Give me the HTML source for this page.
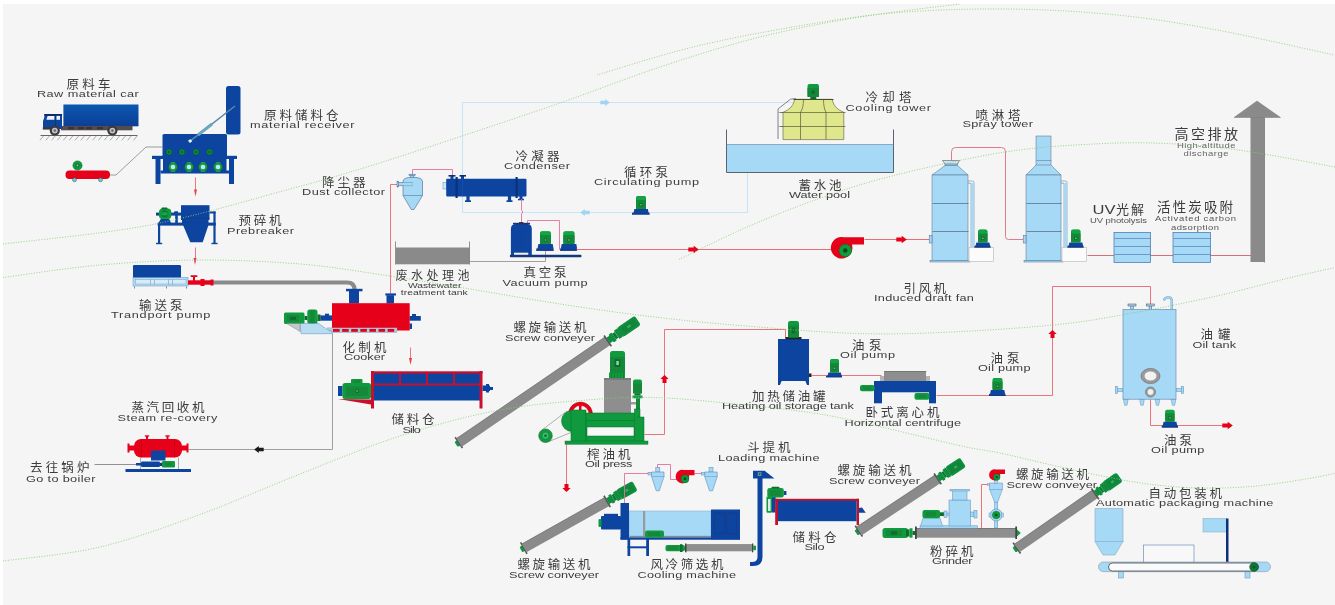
<!DOCTYPE html>
<html lang="zh"><head><meta charset="utf-8"><title>Rendering plant process flow</title>
<style>
html,body{margin:0;padding:0;background:#fff;}
body{width:1335px;height:605px;overflow:hidden;font-family:"Liberation Sans","Noto Sans CJK SC",sans-serif;}
svg{display:block;filter:blur(0.55px);}
svg text{font-family:"Liberation Sans","Noto Sans CJK SC",sans-serif;}
</style></head><body>
<svg width="1335" height="605" viewBox="0 0 1335 605">
<rect x="0" y="0" width="1335" height="605" fill="#ffffff"/>
<rect x="3" y="4" width="1340" height="610" fill="#f5f5f5"/>
<defs><linearGradient id="bg1" x1="0" y1="0" x2="0" y2="1"><stop offset="0" stop-color="#0b59b0"/><stop offset="1" stop-color="#0c3e96"/></linearGradient></defs>
<rect x="63.4" y="104.5" width="75.1" height="21.8" fill="url(#bg1)"/>
<rect x="61.0" y="126.0" width="71.5" height="4.3" fill="#544c4c"/>
<rect x="68.0" y="127.0" width="6.0" height="2.3" fill="#3a3434"/>
<rect x="78.0" y="127.0" width="6.0" height="2.3" fill="#3a3434"/>
<rect x="86.0" y="127.0" width="6.0" height="2.3" fill="#3a3434"/>
<rect x="97.0" y="127.0" width="6.0" height="2.3" fill="#3a3434"/>
<polygon points="44.5,115.0 62.0,115.0 62.0,129.0 43.0,129.0 43.0,121.0 44.2,118.0" fill="#0c44a0"/>
<polygon points="44.0,113.9 62.0,113.9 62.0,115.8 44.6,115.8" fill="#0a2a6a"/>
<polygon points="47.6,115.9 54.4,115.9 54.4,119.8 46.4,119.8" fill="#eef2f8"/>
<rect x="56.5" y="115.9" width="3.5" height="3.9" fill="#eef2f8"/>
<path d="M55.5 115.5 L55.5 127.5" fill="none" stroke="#0a2a6a" stroke-width="0.6"/>
<rect x="42.8" y="127.2" width="7.7" height="2.4" fill="#3a3a3a"/>
<circle cx="54.8" cy="130.6" r="5.1" fill="#3a3a3a"/>
<circle cx="54.8" cy="130.6" r="2.9" fill="#c4c4c4"/>
<circle cx="54.8" cy="130.6" r="1.3" fill="#6a6a6a"/>
<circle cx="112.4" cy="130.6" r="5.1" fill="#3a3a3a"/>
<circle cx="112.4" cy="130.6" r="2.9" fill="#c4c4c4"/>
<circle cx="112.4" cy="130.6" r="1.3" fill="#6a6a6a"/>
<path d="M40.5 135.5 L137.5 135.5" fill="none" stroke="#555" stroke-width="0.9"/>
<path d="M43.5 136.0 L39.9 140.3" fill="none" stroke="#777" stroke-width="0.6"/>
<path d="M49.4 136.0 L45.8 140.3" fill="none" stroke="#777" stroke-width="0.6"/>
<path d="M55.2 136.0 L51.6 140.3" fill="none" stroke="#777" stroke-width="0.6"/>
<path d="M61.0 136.0 L57.4 140.3" fill="none" stroke="#777" stroke-width="0.6"/>
<path d="M66.9 136.0 L63.3 140.3" fill="none" stroke="#777" stroke-width="0.6"/>
<path d="M72.8 136.0 L69.2 140.3" fill="none" stroke="#777" stroke-width="0.6"/>
<path d="M78.6 136.0 L75.0 140.3" fill="none" stroke="#777" stroke-width="0.6"/>
<path d="M84.4 136.0 L80.8 140.3" fill="none" stroke="#777" stroke-width="0.6"/>
<path d="M90.3 136.0 L86.7 140.3" fill="none" stroke="#777" stroke-width="0.6"/>
<path d="M96.2 136.0 L92.6 140.3" fill="none" stroke="#777" stroke-width="0.6"/>
<path d="M102.0 136.0 L98.4 140.3" fill="none" stroke="#777" stroke-width="0.6"/>
<path d="M107.8 136.0 L104.2 140.3" fill="none" stroke="#777" stroke-width="0.6"/>
<path d="M113.7 136.0 L110.1 140.3" fill="none" stroke="#777" stroke-width="0.6"/>
<path d="M119.5 136.0 L116.0 140.3" fill="none" stroke="#777" stroke-width="0.6"/>
<path d="M125.4 136.0 L121.8 140.3" fill="none" stroke="#777" stroke-width="0.6"/>
<path d="M131.2 136.0 L127.7 140.3" fill="none" stroke="#777" stroke-width="0.6"/>
<path d="M137.1 136.0 L133.5 140.3" fill="none" stroke="#777" stroke-width="0.6"/>
<path d="M110.0 175.0 L116.0 175.0 L146.0 147.0 L162.5 147.0" fill="none" stroke="#777" stroke-width="0.7"/>
<rect x="65.5" y="170.5" width="44.5" height="8.5" fill="#e60019" rx="4"/>
<circle cx="77.5" cy="165.5" r="4.6" fill="#0f9a3e" stroke="#0b6e2c" stroke-width="0.6"/>
<circle cx="77.5" cy="165.5" r="2.0" fill="#0b6e2c"/>
<circle cx="77.5" cy="165.5" r="0.9" fill="#8fd6a0"/>
<circle cx="74.5" cy="179.8" r="1.9" fill="#7fc8e8" stroke="#2a7a5a" stroke-width="0.7"/>
<circle cx="100.5" cy="179.8" r="1.9" fill="#7fc8e8" stroke="#2a7a5a" stroke-width="0.7"/>
<rect x="226.0" y="86.0" width="14.5" height="48.5" fill="#0c44a0" rx="2.5"/>
<rect x="162.5" y="134.0" width="64.5" height="23.0" fill="#0c44a0" rx="1.5"/>
<rect x="152.0" y="155.8" width="85.0" height="3.2" fill="#0c44a0"/>
<rect x="155.5" y="159.0" width="5.0" height="25.0" fill="#0c44a0"/>
<rect x="229.0" y="159.0" width="5.0" height="25.0" fill="#0c44a0"/>
<rect x="160.5" y="170.5" width="68.5" height="3.0" fill="#0c44a0"/>
<rect x="163.0" y="159.0" width="63.5" height="12.0" fill="#0c44a0"/>
<circle cx="169.0" cy="152.0" r="2.9" fill="#0f8a3a" stroke="#0a5a28" stroke-width="0.6"/>
<circle cx="169.0" cy="152.0" r="1.1" fill="#0a5a28"/>
<circle cx="182.0" cy="152.0" r="2.9" fill="#0f8a3a" stroke="#0a5a28" stroke-width="0.6"/>
<circle cx="182.0" cy="152.0" r="1.1" fill="#0a5a28"/>
<circle cx="196.0" cy="152.0" r="2.9" fill="#0f8a3a" stroke="#0a5a28" stroke-width="0.6"/>
<circle cx="196.0" cy="152.0" r="1.1" fill="#0a5a28"/>
<circle cx="209.5" cy="152.0" r="2.9" fill="#0f8a3a" stroke="#0a5a28" stroke-width="0.6"/>
<circle cx="209.5" cy="152.0" r="1.1" fill="#0a5a28"/>
<circle cx="173.0" cy="167.0" r="4.6" fill="#1a9a48" stroke="#0a5a28" stroke-width="0.6"/>
<rect x="170.8" y="162.0" width="4.4" height="10.0" fill="#1a9a48"/>
<circle cx="173.0" cy="167.0" r="2.3" fill="#bfe6f8"/>
<circle cx="189.0" cy="167.0" r="4.6" fill="#1a9a48" stroke="#0a5a28" stroke-width="0.6"/>
<rect x="186.8" y="162.0" width="4.4" height="10.0" fill="#1a9a48"/>
<circle cx="189.0" cy="167.0" r="2.3" fill="#bfe6f8"/>
<circle cx="203.0" cy="167.0" r="4.6" fill="#1a9a48" stroke="#0a5a28" stroke-width="0.6"/>
<rect x="200.8" y="162.0" width="4.4" height="10.0" fill="#1a9a48"/>
<circle cx="203.0" cy="167.0" r="2.3" fill="#bfe6f8"/>
<circle cx="218.0" cy="167.0" r="4.6" fill="#1a9a48" stroke="#0a5a28" stroke-width="0.6"/>
<rect x="215.8" y="162.0" width="4.4" height="10.0" fill="#1a9a48"/>
<circle cx="218.0" cy="167.0" r="2.3" fill="#bfe6f8"/>
<path d="M235.0 106.0 L191.0 140.3" fill="none" stroke="#5a8aa8" stroke-width="1.5"/>
<path d="M212.0 124.0 L198.0 135.0" fill="none" stroke="#6aa6bd" stroke-width="3"/>
<rect x="188.6" y="139.6" width="3.0" height="3.0" fill="#e8f2fa" transform="rotate(-38 190 141)"/>
<path d="M195.5 177.5 L195.5 192.5" fill="none" stroke="#e8404a" stroke-width="0.7"/>
<polygon points="194.0,189.5 197.0,189.5 195.5,196.5" fill="#e8404a"/>
<rect x="181.0" y="205.2" width="28.5" height="14.8" fill="#0c44a0"/>
<rect x="182.0" y="220.0" width="26.5" height="3.0" fill="#0c44a0"/>
<path d="M181.5 218.5 L209.5 218.5" fill="none" stroke="#1a3a7a" stroke-width="0.6"/>
<polygon points="183.0,225.0 208.5,225.0 202.7,242.2 190.3,242.2" fill="#0c44a0"/>
<rect x="157.6" y="222.6" width="58.2" height="3.0" fill="#0c44a0"/>
<rect x="158.0" y="225.0" width="2.2" height="18.5" fill="#0c44a0"/>
<rect x="156.0" y="242.8" width="6.2" height="1.4" fill="#0c44a0"/>
<rect x="213.4" y="211.5" width="2.2" height="32.0" fill="#0c44a0"/>
<rect x="211.4" y="242.8" width="6.2" height="1.4" fill="#0c44a0"/>
<rect x="175.2" y="211.5" width="2.6" height="11.5" fill="#0c44a0"/>
<rect x="209.5" y="211.5" width="6.1" height="2.0" fill="#0c44a0"/>
<rect x="174.0" y="211.5" width="4.0" height="1.8" fill="#0c44a0"/>
<rect x="156.0" y="212.6" width="25.0" height="3.0" fill="#0c44a0"/>
<polygon points="161.0,218.5 169.0,218.5 171.0,223.0 158.5,223.0" fill="#0c44a0"/>
<rect x="159.0" y="208.6" width="12.3" height="10.4" fill="#0f9a3e" rx="3.5"/>
<circle cx="164.6" cy="213.8" r="3.6" fill="#0b7a32"/>
<rect x="161.5" y="207.5" width="6.0" height="1.8" fill="#0b6e2c" rx="0.8"/>
<rect x="161.5" y="212.3" width="6.0" height="3.0" fill="#1fa050"/>
<path d="M195.5 247.5 L195.5 261.5" fill="none" stroke="#e8404a" stroke-width="0.7"/>
<polygon points="193.5,258.0 196.5,258.0 195.0,265.0" fill="#e8404a"/>
<rect x="133.0" y="265.0" width="48.0" height="13.0" fill="#0c44a0" rx="1.2"/>
<rect x="133.0" y="277.5" width="55.0" height="8.5" fill="#b8dcf2" stroke="#5f8fb8" stroke-width="0.5"/>
<rect x="135.5" y="279.5" width="50.5" height="4.5" fill="#d6ecf8" stroke="#5f8fb8" stroke-width="0.4"/>
<path d="M150.5 279.5 L150.5 284.5" fill="none" stroke="#5f8fb8" stroke-width="0.5"/>
<path d="M154.5 279.5 L154.5 284.5" fill="none" stroke="#5f8fb8" stroke-width="0.5"/>
<path d="M168.5 279.5 L168.5 284.5" fill="none" stroke="#5f8fb8" stroke-width="0.5"/>
<path d="M172.5 279.5 L172.5 284.5" fill="none" stroke="#5f8fb8" stroke-width="0.5"/>
<path d="M134.5 286.5 L134.5 288.5" fill="none" stroke="#5f8fb8" stroke-width="1"/>
<path d="M166.5 286.5 L166.5 288.5" fill="none" stroke="#5f8fb8" stroke-width="1"/>
<path d="M186.5 286.5 L186.5 288.5" fill="none" stroke="#5f8fb8" stroke-width="1"/>
<path d="M213 282.5 L347 282.5 Q354.5 282.5 354.5 289.5" fill="none" stroke="#8a8a8a" stroke-width="4.2"/>
<rect x="188.0" y="280.3" width="25.0" height="4.4" fill="#e60019"/>
<rect x="200.5" y="279.0" width="4.0" height="7.0" fill="#e60019"/>
<rect x="193.0" y="276.5" width="2.0" height="4.5" fill="#e60019"/>
<rect x="190.5" y="275.2" width="7.0" height="1.8" fill="#e60019" rx="0.8"/>
<rect x="210.5" y="279.5" width="3.0" height="6.0" fill="#e60019"/>
<path d="M390.5 184.5 L390.5 293.5" fill="none" stroke="#e8525f" stroke-width="0.8"/>
<path d="M390.5 184.5 L398.5 184.5" fill="none" stroke="#e8525f" stroke-width="0.8"/>
<path d="M332.5 333.5 L332.5 449.5 L188.5 449.5" fill="none" stroke="#8a8a8a" stroke-width="0.8"/>
<rect x="349.0" y="291.0" width="10.0" height="12.5" fill="#0c44a0"/>
<rect x="346.0" y="288.8" width="16.5" height="2.5" fill="#0c44a0"/>
<rect x="386.5" y="295.2" width="7.5" height="8.3" fill="#0c44a0"/>
<rect x="385.3" y="293.4" width="10.7" height="2.1" fill="#0c44a0"/>
<rect x="409.5" y="316.0" width="11.3" height="4.7" fill="#0c44a0"/>
<rect x="412.0" y="314.0" width="4.0" height="6.0" fill="#0c44a0"/>
<rect x="409.5" y="323.5" width="2.5" height="5.5" fill="#0c44a0"/>
<rect x="320.3" y="315.4" width="11.9" height="5.3" fill="#0c44a0"/>
<rect x="325.0" y="313.7" width="4.0" height="6.3" fill="#0c44a0"/>
<rect x="332.0" y="303.2" width="77.7" height="27.3" fill="#e60019"/>
<rect x="327.8" y="327.9" width="69.2" height="4.7" fill="#b4c8da" stroke="#7f9ab5" stroke-width="0.4"/>
<rect x="333.0" y="329.0" width="6.6" height="2.8" fill="#e60019"/>
<rect x="342.1" y="329.0" width="6.6" height="2.8" fill="#e60019"/>
<rect x="351.2" y="329.0" width="6.6" height="2.8" fill="#e60019"/>
<rect x="360.3" y="329.0" width="6.6" height="2.8" fill="#e60019"/>
<rect x="369.4" y="329.0" width="6.6" height="2.8" fill="#e60019"/>
<rect x="378.5" y="329.0" width="6.6" height="2.8" fill="#e60019"/>
<rect x="387.6" y="329.0" width="6.6" height="2.8" fill="#e60019"/>
<rect x="284.0" y="312.5" width="20.5" height="11.5" fill="#0f9a3e" rx="1.5"/>
<rect x="287.0" y="315.0" width="12.0" height="6.5" fill="#15883a"/>
<rect x="290.0" y="316.8" width="6.0" height="3.0" fill="#0b6e2c"/>
<rect x="304.5" y="316.0" width="3.0" height="4.0" fill="#0b6e2c"/>
<rect x="307.3" y="309.5" width="10.2" height="14.5" fill="#0f9a3e" rx="2.5"/>
<rect x="310.0" y="310.0" width="4.5" height="13.5" fill="#15883a"/>
<rect x="317.5" y="314.5" width="3.0" height="6.5" fill="#0b6e2c"/>
<polygon points="300.0,323.5 318.5,323.5 329.6,331.0 332.0,331.0 332.0,333.7 301.0,333.7" fill="#b8dcf2" stroke="#5f8fb8" stroke-width="0.5"/>
<polygon points="286.6,323.5 300.0,323.5 300.0,331.5" fill="#c4c8cc" stroke="#777" stroke-width="0.4"/>
<path d="M410.5 347.5 L410.5 361.5" fill="none" stroke="#e8404a" stroke-width="0.7"/>
<polygon points="409.0,358.0 412.0,358.0 410.5,365.0" fill="#e8404a"/>
<rect x="374.0" y="373.0" width="106.0" height="27.5" fill="#0c44a0"/>
<rect x="371.0" y="371.3" width="111.5" height="2.3" fill="#c8102e"/>
<rect x="371.0" y="371.0" width="3.0" height="37.5" fill="#c8102e"/>
<rect x="479.5" y="371.0" width="3.0" height="37.5" fill="#c8102e"/>
<rect x="374.0" y="383.5" width="106.0" height="2.0" fill="#c8102e"/>
<rect x="399.0" y="373.0" width="2.0" height="11.0" fill="#c8102e"/>
<rect x="426.0" y="373.0" width="2.0" height="11.0" fill="#c8102e"/>
<rect x="453.0" y="373.0" width="2.0" height="11.0" fill="#c8102e"/>
<rect x="482.5" y="385.5" width="7.5" height="5.5" fill="#0c44a0"/>
<rect x="486.0" y="384.0" width="3.0" height="8.5" fill="#0c44a0"/>
<rect x="490.0" y="387.0" width="3.0" height="3.0" fill="#0c44a0"/>
<polygon points="338.0,399.0 371.0,399.5 371.0,404.5" fill="#c8102e"/>
<rect x="338.0" y="386.0" width="4.5" height="10.0" fill="#0c44a0"/>
<rect x="342.5" y="383.0" width="28.5" height="16.0" fill="#0f9a3e" rx="2.5"/>
<rect x="351.0" y="379.0" width="11.5" height="5.0" fill="#0f9a3e" rx="1"/>
<rect x="353.5" y="380.2" width="6.5" height="2.8" fill="#15883a"/>
<rect x="346.0" y="386.5" width="22.0" height="9.5" fill="#15883a" rx="1"/>
<circle cx="357.0" cy="391.0" r="2.0" fill="#0b6e2c"/>
<circle cx="357.0" cy="391.0" r="0.8" fill="#8fd6a0"/>
<path d="M462.5 178.5 L462.5 102.5 L793.5 102.5" fill="none" stroke="#cbe4f5" stroke-width="1.1"/>
<path d="M462.5 196.5 L462.5 212.5 L747.5 212.5 L747.5 172.5" fill="none" stroke="#cbe4f5" stroke-width="1.1"/>
<polygon points="600.3,100.7 605.2,100.7 605.2,99.1 609.8,102.5 605.2,105.9 605.2,104.3 600.3,104.3" fill="#9fd4f3"/>
<polygon points="589.7,210.7 584.8,210.7 584.8,209.1 580.2,212.5 584.8,215.9 584.8,214.3 589.7,214.3" fill="#9fd4f3"/>
<path d="M412.5 176.5 L412.5 169.5 L452.5 169.5 L452.5 176.5" fill="none" stroke="#e7719c" stroke-width="0.9"/>
<rect x="410.3" y="174.8" width="3.6" height="3.2" fill="#a6d9f5" stroke="#3f6690" stroke-width="0.5"/>
<rect x="409.0" y="174.2" width="6.2" height="1.4" fill="#a6d9f5" stroke="#3f6690" stroke-width="0.5"/>
<path d="M403 181.5 Q403 177.3 412.7 177.3 Q422.5 177.3 422.5 181.5 L422.5 195.5 L414 209.5 L411.3 209.5 L403 195.5Z" fill="#a6d9f5" stroke="#3f6690" stroke-width="0.6"/>
<path d="M403.5 195.5 L422.5 195.5" fill="none" stroke="#3f6690" stroke-width="0.5"/>
<rect x="398.0" y="182.3" width="14.0" height="3.5" fill="#a6d9f5" stroke="#3f6690" stroke-width="0.5"/>
<rect x="397.0" y="181.2" width="1.6" height="5.8" fill="#a6d9f5" stroke="#3f6690" stroke-width="0.5"/>
<rect x="403.4" y="182.7" width="8.9" height="2.7" fill="#a6d9f5"/>
<rect x="443.0" y="182.5" width="3.5" height="6.5" fill="#cfe6f6" stroke="#5f8fb8" stroke-width="0.5"/>
<rect x="446.2" y="178.8" width="80.3" height="17.6" fill="#0c44a0" rx="1"/>
<rect x="455.5" y="177.0" width="2.2" height="21.0" fill="#0a3278"/>
<rect x="515.5" y="177.0" width="2.2" height="21.0" fill="#0a3278"/>
<rect x="450.5" y="175.6" width="3.0" height="3.4" fill="#0c44a0"/>
<rect x="448.5" y="175.0" width="7.0" height="1.6" fill="#0a3278"/>
<rect x="461.0" y="175.6" width="3.0" height="3.4" fill="#0c44a0"/>
<rect x="459.5" y="175.0" width="6.5" height="1.6" fill="#0a3278"/>
<rect x="466.4" y="195.5" width="3.2" height="5.5" fill="#0c44a0"/>
<rect x="465.0" y="200.3" width="6.0" height="1.7" fill="#0c44a0"/>
<rect x="507.9" y="195.5" width="3.2" height="5.5" fill="#0c44a0"/>
<rect x="506.5" y="200.3" width="6.0" height="1.7" fill="#0c44a0"/>
<rect x="519.5" y="195.5" width="3.0" height="4.0" fill="#0c44a0"/>
<rect x="518.0" y="198.8" width="6.0" height="1.5" fill="#0c44a0"/>
<path d="M462.5 178.5 L462.5 196.5" fill="none" stroke="#1d56b4" stroke-width="0.6"/>
<path d="M521.5 199 L521.5 210 L522.8 212 L521.5 214 L521.5 223" fill="none" stroke="#e7719c" stroke-width="0.9"/>
<path d="M469.5 261.5 L545.5 261.5 L545.5 250.5" fill="none" stroke="#8a8a8a" stroke-width="0.8"/>
<rect x="396.0" y="247.5" width="73.5" height="16.8" fill="#8a8a8a"/>
<path d="M395.5 241.5 L395.5 264.5" fill="none" stroke="#777" stroke-width="0.8"/>
<path d="M469.5 241.5 L469.5 264.5" fill="none" stroke="#777" stroke-width="0.8"/>
<path d="M527.5 223.5 L527.5 220.5 L559.5 220.5 L559.5 249.5 L562 249.5" fill="none" stroke="#e7719c" stroke-width="0.9"/>
<path d="M576.5 249.5 L833.5 249.5" fill="none" stroke="#e8525f" stroke-width="0.85"/>
<path d="M510.9 229 Q510.9 224 516 224 L526.7 224 Q531.8 224 531.8 229 L531.8 255.3 L510.9 255.3Z" fill="#0c44a0"/>
<rect x="513.0" y="222.8" width="17.0" height="1.6" fill="#16357a"/>
<rect x="519.0" y="222.2" width="4.4" height="1.0" fill="#222"/>
<rect x="514.0" y="252.7" width="14.3" height="2.5" fill="#f0f0f0"/>
<circle cx="521.3" cy="240.0" r="1.6" fill="none" stroke="#1a3a8a" stroke-width="0.5"/>
<polygon points="538.4,244.1 552.7,244.1 553.5,248.2 553.6,248.6 553.6,250.7 536.3,250.7 536.3,248.6 537.6,248.2" fill="#0c44a0"/>
<rect x="536.3" y="249.7" width="17.3" height="1.0" fill="#16357a"/>
<rect x="540.0" y="231.3" width="10.9" height="12.8" fill="#0f9a3e" rx="2"/>
<rect x="540.0" y="235.1" width="10.9" height="9.0" fill="#15883a"/>
<rect x="540.3" y="231.6" width="10.3" height="3.5" fill="#12a544" rx="1.5"/>
<rect x="543.9" y="238.4" width="3.2" height="3.2" fill="#0b6e2c"/>
<rect x="544.7" y="239.5" width="1.6" height="1.0" fill="#8fd6a0"/>
<polygon points="561.7,244.1 576.3,244.1 577.1,248.2 576.8,248.6 576.8,250.7 560.2,250.7 560.2,248.6 560.9,248.2" fill="#0c44a0"/>
<rect x="560.2" y="249.7" width="16.6" height="1.0" fill="#16357a"/>
<rect x="563.3" y="231.3" width="11.2" height="12.8" fill="#0f9a3e" rx="2"/>
<rect x="563.3" y="235.1" width="11.2" height="9.0" fill="#15883a"/>
<rect x="563.6" y="231.6" width="10.6" height="3.5" fill="#12a544" rx="1.5"/>
<rect x="567.3" y="238.4" width="3.2" height="3.2" fill="#0b6e2c"/>
<rect x="568.1" y="239.5" width="1.6" height="1.0" fill="#8fd6a0"/>
<rect x="509.8" y="254.8" width="71.7" height="2.4" fill="#16357a" rx="1"/>
<polygon points="688.3,247.6 693.7,247.6 693.7,245.7 698.8,249.5 693.7,253.3 693.7,251.4 688.3,251.4" fill="#e60019"/>
<polygon points="634.4,209.0 647.8,209.0 648.6,212.4 649.5,212.8 649.5,214.5 632.0,214.5 632.0,212.8 633.6,212.4" fill="#0c44a0"/>
<rect x="632.0" y="213.5" width="17.5" height="1.0" fill="#16357a"/>
<rect x="636.0" y="196.0" width="10.0" height="13.0" fill="#0f9a3e" rx="2"/>
<rect x="636.0" y="199.9" width="10.0" height="9.1" fill="#15883a"/>
<rect x="636.3" y="196.3" width="9.4" height="3.6" fill="#12a544" rx="1.5"/>
<rect x="639.4" y="203.2" width="3.2" height="3.2" fill="#0b6e2c"/>
<rect x="640.2" y="204.3" width="1.6" height="1.0" fill="#8fd6a0"/>
<rect x="726.3" y="144.0" width="167.1" height="28.0" fill="#a6d9f5"/>
<path d="M726.5 129.5 L726.5 172.5 L893.5 172.5 L893.5 129.5" fill="none" stroke="#5a6470" stroke-width="1.0"/>
<path d="M726.5 144.5 L893.5 144.5" fill="none" stroke="#6f8aa0" stroke-width="0.6"/>
<path d="M796.0 98.6 L790.5 99.2 L778.0 109.0 L778.0 139.0" fill="none" stroke="#666" stroke-width="0.8"/>
<path d="M778.5 112.5 L783.5 112.5" fill="none" stroke="#666" stroke-width="0.6"/>
<path d="M778.5 126.5 L783.5 126.5" fill="none" stroke="#666" stroke-width="0.6"/>
<path d="M794.3 99.3 L832.5 99.3 L832.5 101 Q835 109 843.8 112.3 L843.8 139.6 L783 139.6 L783 112.3 Q792 109 794.3 101Z" fill="#dfe78c" stroke="#5a5a3a" stroke-width="0.6"/>
<path d="M780.5 112.5 L845.5 112.5" fill="none" stroke="#5a5a3a" stroke-width="0.7"/>
<path d="M780.5 126.5 L845.5 126.5" fill="none" stroke="#5a5a3a" stroke-width="0.7"/>
<path d="M803.5 99.5 Q803.5 108 800.5 112.3 L800.5 139.6" fill="none" stroke="#5a5a3a" stroke-width="0.7"/>
<path d="M823.5 99.5 Q823.5 108 826 112.3 L826 139.6" fill="none" stroke="#5a5a3a" stroke-width="0.7"/>
<path d="M793.5 99.5 L833.5 99.5" fill="none" stroke="#4a4a30" stroke-width="1.0"/>
<rect x="810.3" y="96.5" width="6.0" height="2.5" fill="#0b6e2c"/>
<rect x="807.5" y="84.0" width="11.5" height="13.0" fill="#0f9a3e" rx="2"/>
<rect x="807.5" y="88.0" width="11.5" height="9.0" fill="#15883a"/>
<rect x="811.6" y="90.5" width="3.2" height="3.5" fill="#0b6e2c"/>
<path d="M843.8 237.2 L864.0 237.2 L864.0 244.4 L851.9 244.4 A10.8 10.8 0 1 1 843.8 237.2Z" fill="#e60019"/>
<circle cx="845.3" cy="250.5" r="6.3" fill="#0f9a3e" stroke="#0b6e2c" stroke-width="0.6"/>
<circle cx="845.3" cy="250.5" r="2.2" fill="#0a4a1e"/>
<path d="M864.5 239.5 L929.5 239.5" fill="none" stroke="#e8525f" stroke-width="0.85"/>
<polygon points="896.3,237.6 901.7,237.6 901.7,235.7 906.8,239.5 901.7,243.3 901.7,241.4 896.3,241.4" fill="#e60019"/>
<path d="M951.5 160.5 L951.5 151.5 Q951.5 147.5 955.5 147.5 L1001.5 147.5 Q1005.5 147.5 1005.5 151.5 L1005.5 236.5 Q1005.5 239.5 1008.5 239.5 L1023 239.5" fill="none" stroke="#e06c80" stroke-width="0.9"/>
<path d="M968.0 181 L972.5 181 Q974.0 181 974.0 183 L974.0 247" fill="none" stroke="#4f6d8c" stroke-width="0.5"/>
<path d="M968.0 183.2 L971.0 183.2 L971.0 247" fill="none" stroke="#4f6d8c" stroke-width="0.5"/>
<rect x="971.1" y="183.0" width="2.8" height="64.0" fill="#a6d9f5"/>
<rect x="945.0" y="163.8" width="12.5" height="2.2" fill="#a6d9f5" stroke="#4f6d8c" stroke-width="0.5"/>
<polygon points="942.5,160.5 959.5,160.5 957.5,164.0 945.0,164.0" fill="#cfe6f6" stroke="#556" stroke-width="0.6"/>
<polygon points="932.0,175.0 945.0,165.5 957.5,165.5 968.0,175.0" fill="#a6d9f5" stroke="#4f6d8c" stroke-width="0.5"/>
<rect x="932.0" y="175.0" width="36.0" height="85.5" fill="#a6d9f5" stroke="#4f6d8c" stroke-width="0.5"/>
<path d="M932.5 203.5 L968.5 203.5" fill="none" stroke="#3c536e" stroke-width="0.6"/>
<path d="M932.5 231.5 L968.5 231.5" fill="none" stroke="#3c536e" stroke-width="0.6"/>
<rect x="930.0" y="260.3" width="40.0" height="1.7" fill="#a6d9f5" stroke="#4f6d8c" stroke-width="0.5"/>
<rect x="929.2" y="235.5" width="2.8" height="7.5" fill="#a6d9f5" stroke="#4f6d8c" stroke-width="0.5"/>
<rect x="969.0" y="247.5" width="24.5" height="14.0" fill="#fbfbfb" stroke="#b5b5b5" stroke-width="0.6"/>
<polygon points="976.4,242.5 989.3,242.5 990.1,245.6 990.5,246.0 990.5,247.5 974.5,247.5 974.5,246.0 975.6,245.6" fill="#0c44a0"/>
<rect x="974.5" y="246.5" width="16.0" height="1.0" fill="#16357a"/>
<rect x="978.0" y="229.5" width="9.5" height="13.0" fill="#0f9a3e" rx="2"/>
<rect x="978.0" y="233.4" width="9.5" height="9.1" fill="#15883a"/>
<rect x="978.3" y="229.8" width="8.9" height="3.6" fill="#12a544" rx="1.5"/>
<rect x="981.1" y="236.7" width="3.2" height="3.2" fill="#0b6e2c"/>
<rect x="982.0" y="237.8" width="1.6" height="1.0" fill="#8fd6a0"/>
<path d="M1061.0 181 L1065.5 181 Q1067.0 181 1067.0 183 L1067.0 247" fill="none" stroke="#4f6d8c" stroke-width="0.5"/>
<path d="M1061.0 183.2 L1064.0 183.2 L1064.0 247" fill="none" stroke="#4f6d8c" stroke-width="0.5"/>
<rect x="1064.1" y="183.0" width="2.8" height="64.0" fill="#a6d9f5"/>
<rect x="1036.0" y="136.0" width="15.0" height="29.5" fill="#a6d9f5" stroke="#4f6d8c" stroke-width="0.5"/>
<path d="M1036.5 160.5 L1051.5 160.5" fill="none" stroke="#4f6d8c" stroke-width="0.5"/>
<polygon points="1026.0,175.0 1036.0,165.0 1051.0,165.0 1061.0,175.0" fill="#a6d9f5" stroke="#4f6d8c" stroke-width="0.5"/>
<rect x="1026.0" y="175.0" width="35.0" height="85.5" fill="#a6d9f5" stroke="#4f6d8c" stroke-width="0.5"/>
<path d="M1026.5 203.5 L1061.5 203.5" fill="none" stroke="#3c536e" stroke-width="0.6"/>
<path d="M1026.5 231.5 L1061.5 231.5" fill="none" stroke="#3c536e" stroke-width="0.6"/>
<rect x="1024.0" y="260.3" width="39.0" height="1.7" fill="#a6d9f5" stroke="#4f6d8c" stroke-width="0.5"/>
<rect x="1023.2" y="235.5" width="2.8" height="7.5" fill="#a6d9f5" stroke="#4f6d8c" stroke-width="0.5"/>
<rect x="1062.0" y="247.5" width="24.5" height="14.0" fill="#fbfbfb" stroke="#b5b5b5" stroke-width="0.6"/>
<polygon points="1069.4,242.5 1082.3,242.5 1083.1,245.6 1083.5,246.0 1083.5,247.5 1067.5,247.5 1067.5,246.0 1068.6,245.6" fill="#0c44a0"/>
<rect x="1067.5" y="246.5" width="16.0" height="1.0" fill="#16357a"/>
<rect x="1071.0" y="229.5" width="9.5" height="13.0" fill="#0f9a3e" rx="2"/>
<rect x="1071.0" y="233.4" width="9.5" height="9.1" fill="#15883a"/>
<rect x="1071.3" y="229.8" width="8.9" height="3.6" fill="#12a544" rx="1.5"/>
<rect x="1074.2" y="236.7" width="3.2" height="3.2" fill="#0b6e2c"/>
<rect x="1075.0" y="237.8" width="1.6" height="1.0" fill="#8fd6a0"/>
<path d="M1087.5 255.5 L1252.5 255.5" fill="none" stroke="#d0606a" stroke-width="0.9"/>
<rect x="1114.0" y="232.5" width="36.5" height="30.0" fill="#a6d9f5" stroke="#3f6fae" stroke-width="0.7"/>
<path d="M1114.5 238.5 L1150.5 238.5" fill="none" stroke="#3f6fae" stroke-width="0.6"/>
<path d="M1114.5 246.5 L1150.5 246.5" fill="none" stroke="#3f6fae" stroke-width="0.6"/>
<path d="M1114.5 254.5 L1150.5 254.5" fill="none" stroke="#3f6fae" stroke-width="0.6"/>
<rect x="1173.0" y="232.5" width="37.5" height="30.0" fill="#a6d9f5" stroke="#3f6fae" stroke-width="0.7"/>
<path d="M1173.5 238.5 L1210.5 238.5" fill="none" stroke="#3f6fae" stroke-width="0.6"/>
<path d="M1173.5 246.5 L1210.5 246.5" fill="none" stroke="#3f6fae" stroke-width="0.6"/>
<path d="M1173.5 254.5 L1210.5 254.5" fill="none" stroke="#3f6fae" stroke-width="0.6"/>
<rect x="1250.5" y="116.0" width="14.0" height="146.0" fill="#8a8a8a"/>
<path d="M1264.5 117.5 L1264.5 262.5" fill="none" stroke="#6e6e6e" stroke-width="0.7"/>
<polygon points="1257.0,101.0 1280.5,117.5 1234.0,117.5" fill="#8a8a8a" stroke="#7a7a7a" stroke-width="0.5"/>
<polygon points="263.7,447.7 258.8,447.7 258.8,446.1 254.2,449.5 258.8,452.9 258.8,451.3 263.7,451.3" fill="#1a1a1a"/>
<path d="M94.5 464.5 L142.5 464.5" fill="none" stroke="#666" stroke-width="0.7"/>
<rect x="128.0" y="445.5" width="6.5" height="5.0" fill="#e60019"/>
<rect x="127.5" y="443.5" width="2.0" height="9.0" fill="#e60019"/>
<rect x="181.5" y="445.5" width="6.5" height="5.0" fill="#e60019"/>
<rect x="186.5" y="443.5" width="2.0" height="9.0" fill="#e60019"/>
<rect x="146.0" y="436.0" width="2.0" height="3.5" fill="#e60019"/>
<rect x="144.8" y="435.3" width="4.4" height="1.3" fill="#e60019"/>
<rect x="166.5" y="436.0" width="2.0" height="3.5" fill="#e60019"/>
<rect x="165.3" y="435.3" width="4.4" height="1.3" fill="#e60019"/>
<rect x="134.0" y="439.0" width="48.0" height="18.5" fill="#e60019" rx="7"/>
<path d="M141.5 439.5 L141.5 457.5" fill="none" stroke="#b00015" stroke-width="0.5"/>
<path d="M174.5 439.5 L174.5 457.5" fill="none" stroke="#b00015" stroke-width="0.5"/>
<rect x="151.0" y="450.5" width="14.5" height="10.0" fill="#0c44a0"/>
<path d="M140.5 457.5 L140.5 469.5" fill="none" stroke="#777" stroke-width="0.6"/>
<path d="M178.5 457.5 L178.5 469.5" fill="none" stroke="#777" stroke-width="0.6"/>
<rect x="141.0" y="461.5" width="19.0" height="5.5" fill="#0c44a0" rx="1.2"/>
<rect x="136.0" y="463.0" width="5.0" height="2.5" fill="#0c44a0"/>
<rect x="160.0" y="462.8" width="2.5" height="3.2" fill="#16357a"/>
<rect x="162.0" y="461.0" width="13.0" height="6.5" fill="#0f9a3e" rx="1.2"/>
<rect x="165.0" y="462.5" width="7.0" height="3.5" fill="#15883a"/>
<rect x="125.5" y="469.0" width="65.5" height="3.0" fill="#0c44a0"/>
<g transform="translate(459.0 442.5) rotate(-34.35)">
<rect x="-3.5" y="-3.0" width="4.0" height="6.0" fill="#0f9a3e" rx="1"/>
<rect x="-1.0" y="-6.5" width="1.6" height="13.0" fill="#555"/>
<rect x="0.0" y="-5.0" width="179.9" height="10.0" fill="#8a8a8a"/>
<path d="M0.5 -4.5 L179.5 -4.5" fill="none" stroke="#777" stroke-width="0.5"/>
<rect x="179.3" y="-6.5" width="1.6" height="13.0" fill="#555"/>
<rect x="180.7" y="-3.3" width="4.3" height="6.6" fill="#0e8f3e"/>
<rect x="184.3" y="-4.7" width="3.7" height="9.4" fill="#0e8f3e" rx="0.8"/>
<rect x="187.9" y="-3.4" width="2.9" height="6.8" fill="#0b7a32"/>
<rect x="190.9" y="-5.0" width="4.4" height="10.0" fill="#0e8f3e" rx="0.8"/>
<rect x="195.3" y="-5.6" width="21.2" height="11.2" fill="#0e8f3e" rx="2.6"/>
<rect x="198.2" y="-3.4" width="15.4" height="6.8" fill="#12853a" rx="1"/>
<rect x="204.0" y="-1.2" width="3.7" height="2.4" fill="#2fae5c"/>
<path d="M195.5 -5.5 L195.5 5.5" fill="none" stroke="#0b6e2c" stroke-width="0.6"/>
</g>
<g transform="translate(524.0 548.0) rotate(-29.26)">
<rect x="-3.5" y="-3.0" width="4.0" height="6.0" fill="#0f9a3e" rx="1"/>
<rect x="-1.0" y="-6.5" width="1.6" height="13.0" fill="#555"/>
<rect x="0.0" y="-5.0" width="95.1" height="10.0" fill="#8a8a8a"/>
<path d="M0.5 -4.5 L95.5 -4.5" fill="none" stroke="#777" stroke-width="0.5"/>
<rect x="94.5" y="-6.5" width="1.6" height="13.0" fill="#555"/>
<rect x="95.9" y="-3.3" width="3.7" height="6.6" fill="#0e8f3e"/>
<rect x="99.0" y="-4.7" width="3.2" height="9.4" fill="#0e8f3e" rx="0.8"/>
<rect x="102.2" y="-3.4" width="2.6" height="6.8" fill="#0b7a32"/>
<rect x="104.7" y="-5.0" width="3.8" height="10.0" fill="#0e8f3e" rx="0.8"/>
<rect x="108.6" y="-5.6" width="18.6" height="11.2" fill="#0e8f3e" rx="2.6"/>
<rect x="111.1" y="-3.4" width="13.4" height="6.8" fill="#12853a" rx="1"/>
<rect x="116.3" y="-1.2" width="3.2" height="2.4" fill="#2fae5c"/>
<path d="M108.5 -5.5 L108.5 5.5" fill="none" stroke="#0b6e2c" stroke-width="0.6"/>
</g>
<g transform="translate(859.0 531.0) rotate(-33.52)">
<rect x="-3.5" y="-3.0" width="4.0" height="6.0" fill="#0f9a3e" rx="1"/>
<rect x="-1.0" y="-6.5" width="1.6" height="13.0" fill="#555"/>
<rect x="0.0" y="-5.0" width="94.2" height="10.0" fill="#8a8a8a"/>
<path d="M0.5 -4.5 L94.5 -4.5" fill="none" stroke="#777" stroke-width="0.5"/>
<rect x="93.6" y="-6.5" width="1.6" height="13.0" fill="#555"/>
<rect x="95.0" y="-3.3" width="3.5" height="6.6" fill="#0e8f3e"/>
<rect x="97.8" y="-4.7" width="3.1" height="9.4" fill="#0e8f3e" rx="0.8"/>
<rect x="100.9" y="-3.4" width="2.4" height="6.8" fill="#0b7a32"/>
<rect x="103.3" y="-5.0" width="3.7" height="10.0" fill="#0e8f3e" rx="0.8"/>
<rect x="107.0" y="-5.6" width="17.7" height="11.2" fill="#0e8f3e" rx="2.6"/>
<rect x="109.4" y="-3.4" width="12.8" height="6.8" fill="#12853a" rx="1"/>
<rect x="114.3" y="-1.2" width="3.1" height="2.4" fill="#2fae5c"/>
<path d="M106.5 -5.5 L106.5 5.5" fill="none" stroke="#0b6e2c" stroke-width="0.6"/>
</g>
<g transform="translate(1017.0 548.0) rotate(-34.70)">
<rect x="-3.5" y="-3.0" width="4.0" height="6.0" fill="#0f9a3e" rx="1"/>
<rect x="-1.0" y="-6.5" width="1.6" height="13.0" fill="#555"/>
<rect x="0.0" y="-5.0" width="94.9" height="10.0" fill="#8a8a8a"/>
<path d="M0.5 -4.5 L94.5 -4.5" fill="none" stroke="#777" stroke-width="0.5"/>
<rect x="94.3" y="-6.5" width="1.6" height="13.0" fill="#555"/>
<rect x="95.7" y="-3.3" width="3.4" height="6.6" fill="#0e8f3e"/>
<rect x="98.5" y="-4.7" width="3.0" height="9.4" fill="#0e8f3e" rx="0.8"/>
<rect x="101.5" y="-3.4" width="2.4" height="6.8" fill="#0b7a32"/>
<rect x="103.9" y="-5.0" width="3.6" height="10.0" fill="#0e8f3e" rx="0.8"/>
<rect x="107.4" y="-5.6" width="17.4" height="11.2" fill="#0e8f3e" rx="2.6"/>
<rect x="109.8" y="-3.4" width="12.6" height="6.8" fill="#12853a" rx="1"/>
<rect x="114.6" y="-1.2" width="3.0" height="2.4" fill="#2fae5c"/>
<path d="M107.5 -5.5 L107.5 5.5" fill="none" stroke="#0b6e2c" stroke-width="0.6"/>
</g>
<path d="M566.5 444.5 L566.5 486.5" fill="none" stroke="#e8525f" stroke-width="0.8"/>
<polygon points="564.5,484.0 564.5,487.9 562.3,487.9 566.5,492.0 570.7,487.9 568.5,487.9 568.5,484.0" fill="#e60019"/>
<path d="M644.5 434.5 L664.5 434.5 L664.5 329.5 L785.5 329.5 L785.5 338.5" fill="none" stroke="#e8525f" stroke-width="0.8"/>
<polygon points="662.5,383.0 662.5,379.1 660.3,379.1 664.5,375.0 668.7,379.1 666.5,379.1 666.5,383.0" fill="#e60019"/>
<path d="M542.0 430.0 L567.0 411.0" fill="none" stroke="#666" stroke-width="0.5"/>
<path d="M549.0 441.5 L572.0 432.0" fill="none" stroke="#666" stroke-width="0.5"/>
<circle cx="545.5" cy="435.7" r="6.8" fill="#0f9a3e" stroke="#0b6e2c" stroke-width="0.6"/>
<circle cx="545.5" cy="435.7" r="3.6" fill="#3fb86a" stroke="#0b6e2c" stroke-width="0.5"/>
<circle cx="545.5" cy="435.7" r="1.3" fill="#0b6e2c"/>
<path d="M568.5 414 A12 12 0 0 1 592.5 414 L589 414 A8.5 8.5 0 0 0 572 414Z" fill="#e60019" stroke="#a00" stroke-width="0.4"/>
<rect x="579.0" y="403.0" width="2.5" height="11.0" fill="#e60019"/>
<path d="M572 410.5 A10.5 10.5 0 0 0 572 431.5Z" fill="#0f9a3e" stroke="#0b6e2c" stroke-width="0.5"/>
<rect x="604.0" y="378.0" width="27.0" height="36.0" fill="#8e8e8e"/>
<rect x="604.0" y="378.0" width="27.0" height="2.0" fill="#7a7a7a"/>
<rect x="609.0" y="372.5" width="16.0" height="5.5" fill="#0f9a3e"/>
<path d="M611.5 373.5 L611.5 378.5" fill="none" stroke="#0b6e2c" stroke-width="0.5"/>
<path d="M614.5 373.5 L614.5 378.5" fill="none" stroke="#0b6e2c" stroke-width="0.5"/>
<path d="M617.5 373.5 L617.5 378.5" fill="none" stroke="#0b6e2c" stroke-width="0.5"/>
<path d="M620.5 373.5 L620.5 378.5" fill="none" stroke="#0b6e2c" stroke-width="0.5"/>
<path d="M623.5 373.5 L623.5 378.5" fill="none" stroke="#0b6e2c" stroke-width="0.5"/>
<rect x="610.0" y="351.0" width="15.0" height="22.0" fill="#0f9a3e" rx="2.5"/>
<rect x="610.0" y="357.0" width="15.0" height="16.0" fill="#15883a"/>
<rect x="614.5" y="359.0" width="6.0" height="8.0" fill="#0b6e2c"/>
<rect x="616.3" y="361.0" width="2.5" height="4.0" fill="#8fd6a0"/>
<rect x="633.0" y="379.5" width="9.0" height="14.0" fill="#0f9a3e" rx="2"/>
<rect x="633.0" y="383.5" width="9.0" height="10.0" fill="#15883a"/>
<rect x="634.5" y="393.5" width="6.0" height="2.0" fill="#0b6e2c"/>
<rect x="632.5" y="395.5" width="10.0" height="2.8" fill="#0f9a3e"/>
<rect x="636.0" y="398.3" width="4.0" height="11.7" fill="#15883a"/>
<rect x="631.0" y="402.0" width="5.0" height="2.5" fill="#9a9a9a"/>
<rect x="571.0" y="410.0" width="15.0" height="31.5" fill="#0f9a3e" stroke="#0b6e2c" stroke-width="0.5"/>
<rect x="634.5" y="409.0" width="5.5" height="32.5" fill="#0f9a3e" stroke="#0b6e2c" stroke-width="0.5"/>
<rect x="638.0" y="417.0" width="6.0" height="24.5" fill="#0f9a3e" stroke="#0b6e2c" stroke-width="0.5"/>
<rect x="635.0" y="417.5" width="6.0" height="23.5" fill="#0f9a3e"/>
<rect x="586.0" y="413.0" width="48.5" height="28.5" fill="#0f9a3e" stroke="#0b6e2c" stroke-width="0.5"/>
<rect x="587.0" y="427.0" width="47.0" height="9.0" fill="#f7f7f7" stroke="#0b6e2c" stroke-width="0.5"/>
<path d="M586.5 420.5 L634.5 420.5" fill="none" stroke="#0b6e2c" stroke-width="0.5"/>
<rect x="565.0" y="441.0" width="83.0" height="3.3" fill="#0f9a3e" stroke="#0b6e2c" stroke-width="0.4"/>
<rect x="778.0" y="339.0" width="31.0" height="42.0" fill="#0c44a0"/>
<polygon points="778.0,380.0 782.0,380.0 780.0,385.0 778.0,385.0" fill="#0c44a0"/>
<polygon points="809.0,380.0 805.0,380.0 807.0,385.0 809.0,385.0" fill="#0c44a0"/>
<rect x="785.5" y="337.0" width="16.0" height="2.3" fill="#222"/>
<rect x="788.0" y="321.0" width="11.0" height="16.5" fill="#0f9a3e" rx="2.2"/>
<rect x="788.0" y="325.5" width="11.0" height="12.0" fill="#15883a"/>
<rect x="791.8" y="327.5" width="3.4" height="6.0" fill="#0b6e2c"/>
<rect x="809.0" y="373.5" width="2.5" height="3.5" fill="#222"/>
<path d="M811.5 375.5 L881.5 375.5" fill="none" stroke="#e8525f" stroke-width="0.8"/>
<polygon points="828.4,372.5 840.8,372.5 841.6,375.5 842.0,375.9 842.0,377.3 826.0,377.3 826.0,375.9 827.6,375.5" fill="#0c44a0"/>
<rect x="826.0" y="376.3" width="16.0" height="1.0" fill="#16357a"/>
<rect x="830.0" y="359.0" width="9.0" height="13.5" fill="#0f9a3e" rx="2"/>
<rect x="830.0" y="363.1" width="9.0" height="9.4" fill="#15883a"/>
<rect x="830.3" y="359.3" width="8.4" height="3.8" fill="#12a544" rx="1.5"/>
<rect x="832.9" y="366.6" width="3.2" height="3.2" fill="#0b6e2c"/>
<rect x="833.7" y="367.7" width="1.6" height="1.0" fill="#8fd6a0"/>
<path d="M936.5 395.5 L1052.5 395.5 L1052.5 286.5 L1150.5 286.5 L1150.5 305.5" fill="none" stroke="#e8525f" stroke-width="0.8"/>
<polygon points="1050.5,338.0 1050.5,334.1 1048.3,334.1 1052.5,330.0 1056.7,334.1 1054.5,334.1 1054.5,338.0" fill="#e60019"/>
<rect x="880.0" y="376.0" width="50.0" height="5.3" fill="#b4b4b4"/>
<rect x="884.0" y="371.0" width="42.0" height="10.3" fill="#8e8e8e"/>
<path d="M884.5 371.5 L926.5 371.5" fill="none" stroke="#666" stroke-width="0.6"/>
<rect x="874.0" y="381.0" width="62.0" height="11.3" fill="#0c44a0"/>
<rect x="874.0" y="392.0" width="8.0" height="11.3" fill="#0c44a0"/>
<rect x="929.0" y="392.0" width="7.0" height="11.3" fill="#0c44a0"/>
<rect x="860.0" y="385.0" width="14.5" height="6.3" fill="#0f9a3e" rx="2"/>
<rect x="863.0" y="386.5" width="8.0" height="3.5" fill="#15883a"/>
<rect x="914.5" y="393.0" width="15.0" height="6.7" fill="#0f9a3e" rx="2"/>
<rect x="917.5" y="394.5" width="8.5" height="3.8" fill="#15883a"/>
<polygon points="990.9,390.0 1004.3,390.0 1005.1,393.7 1005.5,394.1 1005.5,396.0 989.0,396.0 989.0,394.1 990.1,393.7" fill="#0c44a0"/>
<rect x="989.0" y="395.0" width="16.5" height="1.0" fill="#16357a"/>
<rect x="992.5" y="378.0" width="10.0" height="12.0" fill="#0f9a3e" rx="2"/>
<rect x="992.5" y="381.6" width="10.0" height="8.4" fill="#15883a"/>
<rect x="992.8" y="378.3" width="9.4" height="3.3" fill="#12a544" rx="1.5"/>
<rect x="995.9" y="384.6" width="3.2" height="3.2" fill="#0b6e2c"/>
<rect x="996.7" y="385.7" width="1.6" height="1.0" fill="#8fd6a0"/>
<path d="M1150.5 399.5 L1150.5 425.5 L1224.5 425.5" fill="none" stroke="#e8525f" stroke-width="0.8"/>
<polygon points="1222.3,423.6 1227.7,423.6 1227.7,421.7 1232.8,425.5 1227.7,429.3 1227.7,427.4 1222.3,427.4" fill="#e60019"/>
<polygon points="1123.4,399.0 1128.2,399.0 1127.0,405.3 1124.6,405.3" fill="#a6d9f5" stroke="#5f8cba" stroke-width="0.5"/>
<polygon points="1139.6,399.0 1144.4,399.0 1143.2,405.3 1140.8,405.3" fill="#a6d9f5" stroke="#5f8cba" stroke-width="0.5"/>
<polygon points="1155.1,399.0 1159.9,399.0 1158.7,405.3 1156.3,405.3" fill="#a6d9f5" stroke="#5f8cba" stroke-width="0.5"/>
<polygon points="1171.1,399.0 1175.9,399.0 1174.7,405.3 1172.3,405.3" fill="#a6d9f5" stroke="#5f8cba" stroke-width="0.5"/>
<rect x="1116.0" y="388.5" width="7.0" height="3.0" fill="#a6d9f5" stroke="#5f8cba" stroke-width="0.5"/>
<rect x="1115.5" y="386.3" width="2.0" height="7.4" fill="#a6d9f5" stroke="#5f8cba" stroke-width="0.5"/>
<rect x="1176.0" y="388.5" width="7.0" height="3.0" fill="#a6d9f5" stroke="#5f8cba" stroke-width="0.5"/>
<rect x="1181.5" y="386.3" width="2.0" height="7.4" fill="#a6d9f5" stroke="#5f8cba" stroke-width="0.5"/>
<rect x="1130.8" y="305.5" width="2.4" height="4.0" fill="#a6d9f5" stroke="#445" stroke-width="0.5"/>
<rect x="1128.0" y="304.0" width="8.0" height="2.0" fill="#a6d9f5" stroke="#445" stroke-width="0.5"/>
<rect x="1149.1" y="305.5" width="2.4" height="4.0" fill="#a6d9f5" stroke="#445" stroke-width="0.5"/>
<rect x="1146.3" y="304.0" width="8.0" height="2.0" fill="#a6d9f5" stroke="#445" stroke-width="0.5"/>
<path d="M1171.7 309.5 L1171.7 300.5 Q1171.7 297.3 1168.5 297.3 Q1164.5 297.3 1164 300.5" fill="none" stroke="#6f9fc8" stroke-width="2.2"/>
<path d="M1171.7 309.5 L1171.7 300.5 Q1171.7 297.3 1168.5 297.3 Q1164.5 297.3 1164 300.5" fill="none" stroke="#a6d9f5" stroke-width="1.2"/>
<rect x="1123.0" y="309.5" width="53.0" height="89.7" fill="#a6d9f5" stroke="#6a8fb5" stroke-width="0.7"/>
<ellipse cx="1150.5" cy="376.0" rx="9.5" ry="7.6" fill="#9a9a9a" stroke="#666" stroke-width="0.6"/>
<ellipse cx="1150.5" cy="376.0" rx="6.2" ry="4.8" fill="#f2f2f2" stroke="#888" stroke-width="0.4"/>
<circle cx="1150.5" cy="392.0" r="5.0" fill="#9a9a9a" stroke="#666" stroke-width="0.6"/>
<circle cx="1150.5" cy="392.0" r="3.2" fill="#f2f2f2" stroke="#888" stroke-width="0.4"/>
<polygon points="1163.6,421.8 1176.4,421.8 1177.2,425.3 1178.0,425.7 1178.0,427.5 1161.8,427.5 1161.8,425.7 1162.8,425.3" fill="#0c44a0"/>
<rect x="1161.8" y="426.5" width="16.2" height="1.0" fill="#16357a"/>
<rect x="1165.2" y="409.7" width="9.4" height="12.1" fill="#0f9a3e" rx="2"/>
<rect x="1165.2" y="413.3" width="9.4" height="8.5" fill="#15883a"/>
<rect x="1165.5" y="410.0" width="8.8" height="3.3" fill="#12a544" rx="1.5"/>
<rect x="1168.3" y="416.3" width="3.2" height="3.2" fill="#0b6e2c"/>
<rect x="1169.1" y="417.4" width="1.6" height="1.0" fill="#8fd6a0"/>
<path d="M624.5 503.5 L624.5 473.5 L648.5 473.5" fill="none" stroke="#e7719c" stroke-width="0.9"/>
<path d="M657.5 469.5 L657.5 464.5 L670.5 464.5 L670.5 479.5 L677.5 479.5" fill="none" stroke="#e7719c" stroke-width="0.9"/>
<path d="M694.5 473.5 L701.5 473.5" fill="none" stroke="#e7719c" stroke-width="0.9"/>
<rect x="655.8" y="467.3" width="4.0" height="4.7" fill="#a6d9f5" stroke="#5f8cba" stroke-width="0.5"/>
<rect x="648.0" y="472.3" width="3.5" height="2.7" fill="#a6d9f5" stroke="#5f8cba" stroke-width="0.5"/>
<polygon points="651.5,472.0 664.0,472.0 664.0,476.6 659.3,490.8 656.3,490.8 651.5,476.6" fill="#a6d9f5" stroke="#5f8cba" stroke-width="0.6"/>
<path d="M651.5 476.5 L664.5 476.5" fill="none" stroke="#5f8cba" stroke-width="0.5"/>
<rect x="709.0" y="467.3" width="4.0" height="4.7" fill="#a6d9f5" stroke="#5f8cba" stroke-width="0.5"/>
<rect x="701.2" y="472.3" width="3.5" height="2.7" fill="#a6d9f5" stroke="#5f8cba" stroke-width="0.5"/>
<polygon points="704.7,472.0 717.2,472.0 717.2,476.6 712.5,490.8 709.5,490.8 704.7,476.6" fill="#a6d9f5" stroke="#5f8cba" stroke-width="0.6"/>
<path d="M704.5 476.5 L717.5 476.5" fill="none" stroke="#5f8cba" stroke-width="0.5"/>
<path d="M684.0 470.0 L694.5 470.0 L694.5 475.3 L689.1 475.3 A6.8 6.8 0 1 1 684.0 470.0Z" fill="#e60019"/>
<circle cx="685.0" cy="478.9" r="3.9" fill="#0f9a3e" stroke="#0b6e2c" stroke-width="0.6"/>
<circle cx="685.0" cy="478.9" r="1.4" fill="#0a4a1e"/>
<rect x="629.0" y="511.0" width="82.0" height="25.0" fill="#a6d9f5" stroke="#7fa8c8" stroke-width="0.5"/>
<path d="M629.5 536.5 L711.5 536.5" fill="none" stroke="#8a8a8a" stroke-width="1.2"/>
<rect x="643.0" y="511.0" width="2.2" height="25.0" fill="#9a9a9a"/>
<rect x="620.5" y="503.0" width="8.5" height="36.5" fill="#0c44a0"/>
<rect x="711.0" y="509.5" width="29.0" height="30.0" fill="#0c44a0"/>
<rect x="714.5" y="513.0" width="10.0" height="20.5" fill="none" stroke="#1a3a7a" stroke-width="0.6"/>
<rect x="726.5" y="513.0" width="10.0" height="20.5" fill="none" stroke="#1a3a7a" stroke-width="0.6"/>
<rect x="620.5" y="537.3" width="119.5" height="2.4" fill="#0c44a0"/>
<rect x="601.0" y="516.0" width="20.0" height="13.5" fill="#0c44a0" rx="1"/>
<rect x="604.0" y="513.8" width="14.0" height="2.7" fill="#0c44a0"/>
<rect x="598.5" y="519.0" width="3.0" height="8.0" fill="#0f9a3e" rx="1"/>
<rect x="645.0" y="530.5" width="19.0" height="7.0" fill="#0f9a3e" rx="2"/>
<rect x="648.0" y="532.0" width="12.0" height="4.0" fill="#15883a"/>
<rect x="627.5" y="539.0" width="2.7" height="17.0" fill="#0c44a0"/>
<rect x="646.2" y="539.0" width="2.8" height="17.0" fill="#0c44a0"/>
<rect x="627.5" y="546.3" width="21.5" height="2.0" fill="#0c44a0"/>
<rect x="686.0" y="544.5" width="66.5" height="6.8" fill="#8e8e8e"/>
<path d="M686.5 544.5 L752.5 544.5" fill="none" stroke="#666" stroke-width="0.5"/>
<rect x="685.0" y="543.5" width="1.5" height="8.8" fill="#444"/>
<rect x="752.0" y="543.5" width="1.3" height="8.8" fill="#444"/>
<rect x="665.5" y="545.0" width="19.5" height="6.2" fill="#0f9a3e" rx="2"/>
<rect x="668.0" y="546.3" width="10.0" height="3.7" fill="#15883a"/>
<rect x="680.0" y="544.2" width="2.5" height="7.8" fill="#0b6e2c"/>
<rect x="753.2" y="545.5" width="2.8" height="4.8" fill="#0f9a3e" rx="1"/>
<path d="M757.5 471 L757.5 557 Q757.5 562 752 562 L750 562 L750 566 L753 566 Q762.5 566 762.5 557 L762.5 471Z" fill="#0c44a0"/>
<polygon points="753.0,470.8 764.6,470.8 774.5,478.4 753.0,478.4" fill="#0c44a0"/>
<rect x="757.8" y="472.3" width="3.6" height="3.5" fill="#8a9aa8"/>
<circle cx="759.6" cy="474.0" r="1.0" fill="#0b6e2c"/>
<rect x="766.5" y="496.5" width="5.5" height="16.3" fill="#0f9a3e" rx="1"/>
<rect x="768.0" y="499.0" width="2.6" height="12.0" fill="#dfe9f0"/>
<rect x="772.0" y="497.0" width="3.6" height="15.5" fill="#0c44a0"/>
<rect x="767.3" y="488.0" width="16.5" height="9.4" fill="#0f9a3e" rx="2.2"/>
<rect x="770.0" y="490.0" width="11.0" height="6.0" fill="#15883a"/>
<rect x="771.5" y="486.8" width="8.0" height="1.8" fill="#0b6e2c" rx="0.8"/>
<rect x="783.8" y="491.0" width="2.6" height="4.0" fill="#0c44a0"/>
<rect x="775.2" y="498.8" width="83.8" height="2.2" fill="#c4102c"/>
<rect x="775.2" y="498.8" width="2.8" height="26.2" fill="#c4102c"/>
<rect x="856.6" y="498.8" width="2.4" height="26.2" fill="#c4102c"/>
<rect x="778.0" y="500.7" width="78.6" height="20.5" fill="#0c44a0"/>
<polygon points="859.0,508.0 862.0,507.6 865.8,512.8 859.0,512.8" fill="#0c44a0"/>
<path d="M981.5 528.5 L981.5 484.5 L988.5 484.5" fill="none" stroke="#e8525f" stroke-width="0.8"/>
<rect x="916.0" y="528.0" width="100.0" height="9.7" fill="#8e8e8e"/>
<path d="M916.5 528.5 L1016.5 528.5" fill="none" stroke="#666" stroke-width="0.6"/>
<rect x="915.0" y="526.5" width="1.8" height="12.5" fill="#444"/>
<rect x="1015.3" y="526.5" width="1.7" height="12.5" fill="#444"/>
<rect x="882.5" y="528.0" width="25.5" height="10.0" fill="#0f9a3e" rx="2.5"/>
<rect x="886.0" y="530.0" width="16.0" height="6.0" fill="#15883a"/>
<rect x="891.0" y="531.3" width="6.0" height="3.4" fill="#0b6e2c"/>
<rect x="906.0" y="529.5" width="3.5" height="7.0" fill="#0b6e2c"/>
<rect x="909.5" y="528.3" width="3.0" height="9.4" fill="#0f9a3e"/>
<rect x="912.5" y="531.0" width="2.5" height="4.0" fill="#0b6e2c"/>
<polygon points="1017.0,529.5 1020.8,533.0 1017.0,536.5" fill="#0f9a3e"/>
<rect x="920.0" y="525.8" width="57.5" height="2.4" fill="#a6d9f5" stroke="#5f8cba" stroke-width="0.5"/>
<rect x="949.0" y="500.0" width="21.5" height="26.0" fill="#a6d9f5" stroke="#5f8cba" stroke-width="0.5"/>
<rect x="952.5" y="490.5" width="14.5" height="9.5" fill="#a6d9f5" stroke="#5f8cba" stroke-width="0.5"/>
<rect x="950.0" y="489.3" width="19.5" height="1.7" fill="#a6d9f5" stroke="#5f8cba" stroke-width="0.5"/>
<polygon points="923.0,518.0 940.0,518.0 942.5,526.0 920.5,526.0" fill="#a6d9f5" stroke="#5f8cba" stroke-width="0.5"/>
<rect x="922.5" y="510.0" width="17.5" height="8.3" fill="#0f9a3e" rx="2"/>
<rect x="925.5" y="511.6" width="10.5" height="5.0" fill="#15883a"/>
<rect x="940.0" y="512.3" width="4.0" height="3.7" fill="#0b6e2c"/>
<rect x="944.0" y="511.0" width="3.0" height="6.3" fill="#a6d9f5" stroke="#5f8cba" stroke-width="0.5"/>
<rect x="947.0" y="513.0" width="2.0" height="2.5" fill="#a6d9f5" stroke="#5f8cba" stroke-width="0.4"/>
<rect x="970.5" y="512.0" width="3.5" height="4.5" fill="#a6d9f5" stroke="#5f8cba" stroke-width="0.5"/>
<rect x="974.0" y="510.5" width="3.0" height="7.5" fill="#a6d9f5" stroke="#5f8cba" stroke-width="0.5"/>
<rect x="994.7" y="500.0" width="3.0" height="28.0" fill="#a6d9f5" stroke="#5f8cba" stroke-width="0.5"/>
<rect x="987.5" y="483.8" width="2.5" height="1.5" fill="#a6d9f5" stroke="#5f8cba" stroke-width="0.4"/>
<polygon points="989.5,483.0 1002.5,483.0 1002.5,489.0 997.5,502.5 994.7,502.5 989.5,489.0" fill="#a6d9f5" stroke="#5f8cba" stroke-width="0.5"/>
<path d="M989.5 489.5 L1002.5 489.5" fill="none" stroke="#5f8cba" stroke-width="0.5"/>
<rect x="994.5" y="480.5" width="3.3" height="2.7" fill="#a6d9f5" stroke="#5f8cba" stroke-width="0.4"/>
<circle cx="996.2" cy="515.0" r="6.0" fill="#a6d9f5" stroke="#5f8cba" stroke-width="0.6"/>
<rect x="989.0" y="513.0" width="2.0" height="4.0" fill="#a6d9f5" stroke="#5f8cba" stroke-width="0.4"/>
<rect x="1001.5" y="513.0" width="2.0" height="4.0" fill="#a6d9f5" stroke="#5f8cba" stroke-width="0.4"/>
<circle cx="996.2" cy="515.0" r="3.8" fill="#0f9a3e" stroke="#0b6e2c" stroke-width="0.5"/>
<circle cx="996.2" cy="515.0" r="1.3" fill="#0a4a1e"/>
<path d="M996.0 469.5 L1005.0 469.5 L1005.0 474.0 L1000.2 474.0 A5.6 5.6 0 1 1 996.0 469.5Z" fill="#e60019"/>
<circle cx="996.8" cy="477.1" r="3.2" fill="#0f9a3e" stroke="#0b6e2c" stroke-width="0.6"/>
<circle cx="996.8" cy="477.1" r="1.1" fill="#0a4a1e"/>
<polygon points="1095.0,508.5 1123.0,508.5 1123.0,541.5 1115.0,555.0 1103.0,555.0 1095.0,541.5" fill="#a6d9f5" stroke="#8aa8c0" stroke-width="0.6"/>
<path d="M1095.5 541.5 L1123.5 541.5" fill="none" stroke="#8aa8c0" stroke-width="0.6"/>
<rect x="1143.5" y="545.0" width="50.5" height="17.5" fill="#f8f8f8" stroke="#6f8fc0" stroke-width="0.7"/>
<rect x="1203.0" y="518.5" width="23.3" height="13.5" fill="#a6d9f5" stroke="#7fa8c8" stroke-width="0.5"/>
<rect x="1226.0" y="518.5" width="2.5" height="44.0" fill="#0f2f7a"/>
<rect x="1118.5" y="571.0" width="5.0" height="7.0" fill="#a6d9f5" stroke="#5f8cba" stroke-width="0.5"/>
<rect x="1245.0" y="571.0" width="5.0" height="7.0" fill="#a6d9f5" stroke="#5f8cba" stroke-width="0.5"/>
<rect x="1098.5" y="562.0" width="172.0" height="9.7" fill="#a6d9f5" rx="4.8" stroke="#8a9ab0" stroke-width="0.6"/>
<rect x="1108.5" y="563.0" width="150.0" height="8.0" fill="#fafafa" rx="4" stroke="#333" stroke-width="0.7"/>
<circle cx="1254.0" cy="567.0" r="4.3" fill="#0d7a34" stroke="#064a1e" stroke-width="0.6"/>
<circle cx="1254.0" cy="567.0" r="1.6" fill="#0a5a26"/>
<text x="66.5" y="88.6" font-size="12.5" fill="#3c3c3c" textLength="43.9" lengthAdjust="spacing">原料车</text>
<text transform="translate(37.0 97.4) scale(1.3 1)" font-size="9.8" fill="#3c3c3c" textLength="78.3" lengthAdjust="spacing">Raw material car</text>
<text x="264.1" y="119.6" font-size="12.5" fill="#3c3c3c" textLength="74.3" lengthAdjust="spacing">原料储料仓</text>
<text transform="translate(250.0 127.6) scale(1.3 1)" font-size="9.8" fill="#3c3c3c" textLength="80.4" lengthAdjust="spacing">material receiver</text>
<text x="322.0" y="186.6" font-size="12.5" fill="#3c3c3c" textLength="43.4" lengthAdjust="spacing">降尘器</text>
<text transform="translate(302.0 195.1) scale(1.3 1)" font-size="9.8" fill="#3c3c3c" textLength="63.8" lengthAdjust="spacing">Dust collector</text>
<text x="238.5" y="225.1" font-size="12.5" fill="#3c3c3c" textLength="42.9" lengthAdjust="spacing">预碎机</text>
<text transform="translate(227.0 233.6) scale(1.3 1)" font-size="9.8" fill="#3c3c3c" textLength="51.5" lengthAdjust="spacing">Prebreaker</text>
<text x="139.0" y="309.6" font-size="12.5" fill="#3c3c3c" textLength="43.4" lengthAdjust="spacing">输送泵</text>
<text transform="translate(111.0 317.6) scale(1.3 1)" font-size="9.8" fill="#3c3c3c" textLength="76.5" lengthAdjust="spacing">Trandport pump</text>
<text x="515.5" y="160.6" font-size="12.5" fill="#3c3c3c" textLength="43.9" lengthAdjust="spacing">冷凝器</text>
<text transform="translate(504.0 168.9) scale(1.3 1)" font-size="9.8" fill="#3c3c3c" textLength="50.8" lengthAdjust="spacing">Condenser</text>
<text x="624.0" y="176.6" font-size="12.5" fill="#3c3c3c" textLength="43.9" lengthAdjust="spacing">循环泵</text>
<text transform="translate(594.0 184.6) scale(1.3 1)" font-size="9.8" fill="#3c3c3c" textLength="80.8" lengthAdjust="spacing">Circulating pump</text>
<text x="865.5" y="102.1" font-size="12.5" fill="#3c3c3c" textLength="45.9" lengthAdjust="spacing">冷却塔</text>
<text transform="translate(845.5 110.6) scale(1.3 1)" font-size="9.8" fill="#3c3c3c" textLength="65.8" lengthAdjust="spacing">Cooling tower</text>
<text x="798.5" y="190.1" font-size="12.5" fill="#3c3c3c" textLength="42.9" lengthAdjust="spacing">蓄水池</text>
<text transform="translate(789.0 197.6) scale(1.3 1)" font-size="9.8" fill="#3c3c3c" textLength="46.9" lengthAdjust="spacing">Water pool</text>
<text x="975.5" y="119.6" font-size="12.5" fill="#3c3c3c" textLength="44.9" lengthAdjust="spacing">喷淋塔</text>
<text transform="translate(962.5 127.4) scale(1.3 1)" font-size="9.8" fill="#3c3c3c" textLength="54.2" lengthAdjust="spacing">Spray tower</text>
<text x="523.5" y="277.1" font-size="12.5" fill="#3c3c3c" textLength="42.9" lengthAdjust="spacing">真空泵</text>
<text transform="translate(502.5 285.6) scale(1.3 1)" font-size="9.8" fill="#3c3c3c" textLength="65.4" lengthAdjust="spacing">Vacuum pump</text>
<text x="903.5" y="292.6" font-size="12.5" fill="#3c3c3c" textLength="42.4" lengthAdjust="spacing">引风机</text>
<text transform="translate(874.0 300.8) scale(1.3 1)" font-size="9.8" fill="#3c3c3c" textLength="76.9" lengthAdjust="spacing">Induced draft fan</text>
<text x="342.5" y="351.6" font-size="12.5" fill="#3c3c3c" textLength="43.9" lengthAdjust="spacing">化制机</text>
<text transform="translate(344.0 359.9) scale(1.3 1)" font-size="9.8" fill="#3c3c3c" textLength="31.5" lengthAdjust="spacing">Cooker</text>
<text x="391.5" y="424.1" font-size="12.5" fill="#3c3c3c" textLength="42.9" lengthAdjust="spacing">储料仓</text>
<text transform="translate(402.5 432.5) scale(1.3 1)" font-size="9.8" fill="#3c3c3c" textLength="14.2" lengthAdjust="spacing">Silo</text>
<text x="513.5" y="332.1" font-size="12.5" fill="#3c3c3c" textLength="72.9" lengthAdjust="spacing">螺旋输送机</text>
<text transform="translate(505.0 341.1) scale(1.3 1)" font-size="9.8" fill="#3c3c3c" textLength="69.2" lengthAdjust="spacing">Screw conveyer</text>
<text x="131.5" y="412.1" font-size="12.5" fill="#3c3c3c" textLength="72.9" lengthAdjust="spacing">蒸汽回收机</text>
<text transform="translate(117.5 421.3) scale(1.3 1)" font-size="9.8" fill="#3c3c3c" textLength="76.9" lengthAdjust="spacing">Steam re-covery</text>
<text x="30.0" y="471.6" font-size="12.5" fill="#3c3c3c" textLength="59.4" lengthAdjust="spacing">去往锅炉</text>
<text transform="translate(26.0 482.1) scale(1.3 1)" font-size="9.8" fill="#3c3c3c" textLength="53.5" lengthAdjust="spacing">Go to boiler</text>
<text x="587.0" y="458.6" font-size="12.5" fill="#3c3c3c" textLength="43.4" lengthAdjust="spacing">榨油机</text>
<text transform="translate(585.0 467.1) scale(1.3 1)" font-size="9.8" fill="#3c3c3c" textLength="36.5" lengthAdjust="spacing">Oil press</text>
<text x="752.0" y="400.6" font-size="12.5" fill="#3c3c3c" textLength="73.4" lengthAdjust="spacing">加热储油罐</text>
<text transform="translate(722.0 408.8) scale(1.3 1)" font-size="9.8" fill="#3c3c3c" textLength="101.5" lengthAdjust="spacing">Heating oil storage tank</text>
<text x="852.0" y="349.6" font-size="12.5" fill="#3c3c3c" textLength="29.4" lengthAdjust="spacing">油泵</text>
<text transform="translate(840.0 357.8) scale(1.3 1)" font-size="9.8" fill="#3c3c3c" textLength="42.3" lengthAdjust="spacing">Oil pump</text>
<text x="865.5" y="417.1" font-size="12.5" fill="#3c3c3c" textLength="73.9" lengthAdjust="spacing">卧式离心机</text>
<text transform="translate(844.5 425.8) scale(1.3 1)" font-size="9.8" fill="#3c3c3c" textLength="89.6" lengthAdjust="spacing">Horizontal centrifuge</text>
<text x="990.5" y="362.6" font-size="12.5" fill="#3c3c3c" textLength="28.9" lengthAdjust="spacing">油泵</text>
<text transform="translate(978.0 371.1) scale(1.3 1)" font-size="9.8" fill="#3c3c3c" textLength="40.4" lengthAdjust="spacing">Oil pump</text>
<text x="1200.5" y="339.1" font-size="12.5" fill="#3c3c3c" textLength="29.9" lengthAdjust="spacing">油罐</text>
<text transform="translate(1192.5 347.8) scale(1.3 1)" font-size="9.8" fill="#3c3c3c" textLength="33.5" lengthAdjust="spacing">Oil tank</text>
<text x="1163.9" y="444.8" font-size="12.5" fill="#3c3c3c" textLength="28.1" lengthAdjust="spacing">油泵</text>
<text transform="translate(1151.0 453.1) scale(1.3 1)" font-size="9.8" fill="#3c3c3c" textLength="41.1" lengthAdjust="spacing">Oil pump</text>
<text x="517.5" y="569.1" font-size="12.5" fill="#3c3c3c" textLength="72.9" lengthAdjust="spacing">螺旋输送机</text>
<text transform="translate(509.0 578.1) scale(1.3 1)" font-size="9.8" fill="#3c3c3c" textLength="69.2" lengthAdjust="spacing">Screw conveyer</text>
<text x="650.5" y="569.1" font-size="12.5" fill="#3c3c3c" textLength="72.9" lengthAdjust="spacing">风冷筛选机</text>
<text transform="translate(637.5 578.1) scale(1.3 1)" font-size="9.8" fill="#3c3c3c" textLength="75.8" lengthAdjust="spacing">Cooling machine</text>
<text x="747.0" y="452.1" font-size="12.5" fill="#3c3c3c" textLength="43.4" lengthAdjust="spacing">斗提机</text>
<text transform="translate(718.0 460.8) scale(1.3 1)" font-size="9.8" fill="#3c3c3c" textLength="78.1" lengthAdjust="spacing">Loading machine</text>
<text x="792.5" y="541.6" font-size="12.5" fill="#3c3c3c" textLength="43.9" lengthAdjust="spacing">储料仓</text>
<text transform="translate(804.5 550.1) scale(1.3 1)" font-size="9.8" fill="#3c3c3c" textLength="15.4" lengthAdjust="spacing">Silo</text>
<text x="837.5" y="475.1" font-size="12.5" fill="#3c3c3c" textLength="73.9" lengthAdjust="spacing">螺旋输送机</text>
<text transform="translate(829.0 483.8) scale(1.3 1)" font-size="9.8" fill="#3c3c3c" textLength="70.0" lengthAdjust="spacing">Screw conveyer</text>
<text x="930.0" y="555.6" font-size="12.5" fill="#3c3c3c" textLength="43.4" lengthAdjust="spacing">粉碎机</text>
<text transform="translate(932.0 564.1) scale(1.3 1)" font-size="9.8" fill="#3c3c3c" textLength="31.2" lengthAdjust="spacing">Grinder</text>
<text x="1016.0" y="479.1" font-size="12.5" fill="#3c3c3c" textLength="72.9" lengthAdjust="spacing">螺旋输送机</text>
<text transform="translate(1006.5 487.8) scale(1.3 1)" font-size="9.8" fill="#3c3c3c" textLength="69.6" lengthAdjust="spacing">Screw conveyer</text>
<text x="1148.5" y="498.1" font-size="12.5" fill="#3c3c3c" textLength="73.4" lengthAdjust="spacing">自动包装机</text>
<text transform="translate(1096.0 506.3) scale(1.3 1)" font-size="9.8" fill="#3c3c3c" textLength="136.5" lengthAdjust="spacing">Automatic packaging machine</text>
<text x="395.6" y="279.5" font-size="12" fill="#3c3c3c" textLength="73.9" lengthAdjust="spacing">废水处理池</text>
<text transform="translate(408.0 288.3) scale(1.4 1)" font-size="7.4" fill="#3c3c3c" textLength="38.1" lengthAdjust="spacing">Wastewater</text>
<text transform="translate(400.7 294.8) scale(1.4 1)" font-size="7.4" fill="#3c3c3c" textLength="47.9" lengthAdjust="spacing">treatment tank</text>
<text x="1174.5" y="138.9" font-size="14" fill="#3c3c3c" textLength="63.6" lengthAdjust="spacing">高空排放</text>
<text transform="translate(1177.0 147.5) scale(1.3 1)" font-size="7.3" fill="#666" textLength="45.0" lengthAdjust="spacing">High-altitude</text>
<text transform="translate(1183.5 155.5) scale(1.3 1)" font-size="7.3" fill="#666" textLength="34.6" lengthAdjust="spacing">discharge</text>
<text x="1116.0" y="213.8" font-size="13" fill="#3c3c3c" textLength="28.0" lengthAdjust="spacing">光解</text>
<text transform="translate(1092.5 213.6) scale(1.12 1)" font-size="13.5" fill="#3c3c3c" textLength="20.5" lengthAdjust="spacingAndGlyphs">UV</text>
<text transform="translate(1090.0 223.0) scale(1.3 1)" font-size="7.3" fill="#555" textLength="43.8" lengthAdjust="spacing">UV photolysis</text>
<text x="1157.0" y="212.0" font-size="13.5" fill="#3c3c3c" textLength="76.0" lengthAdjust="spacing">活性炭吸附</text>
<text transform="translate(1155.0 220.6) scale(1.3 1)" font-size="7.3" fill="#555" textLength="62.3" lengthAdjust="spacing">Activated carbon</text>
<text transform="translate(1171.0 229.6) scale(1.3 1)" font-size="7.3" fill="#555" textLength="36.9" lengthAdjust="spacing">adsorption</text>
<path d="M3.0 244.0 C27.5 240.8 102.2 234.2 150.0 225.0 C197.8 215.8 253.3 198.8 290.0 189.0 C326.7 179.2 343.3 174.2 370.0 166.0 C396.7 157.8 418.3 150.5 450.0 140.0 C481.7 129.5 525.0 115.2 560.0 103.0 C595.0 90.8 626.7 78.0 660.0 67.0 C693.3 56.0 726.7 45.3 760.0 37.0 C793.3 28.7 826.7 22.5 860.0 17.0 C893.3 11.5 943.3 6.2 960.0 4.0" fill="none" stroke="#84cc70" stroke-width="0.85" stroke-dasharray="1 1.6"/>
<path d="M597.0 75.0 C613.0 70.3 660.3 55.0 693.0 47.0 C725.7 39.0 759.7 32.7 793.0 27.0 C826.3 21.3 857.7 16.0 893.0 13.0 C928.3 10.0 967.7 8.7 1005.0 9.0 C1042.3 9.3 1081.7 11.5 1117.0 15.0 C1152.3 18.5 1180.8 23.3 1217.0 30.0 C1253.2 36.7 1314.5 50.8 1334.0 55.0" fill="none" stroke="#84cc70" stroke-width="0.85" stroke-dasharray="1 1.6"/>
<path d="M3.0 277.5 C19.2 275.4 67.2 267.9 100.0 265.0 C132.8 262.1 166.7 260.2 200.0 260.0 C233.3 259.8 270.0 261.6 300.0 264.0 C330.0 266.4 351.7 270.3 380.0 274.5 C408.3 278.7 440.0 284.1 470.0 289.0 C500.0 293.9 530.0 299.4 560.0 304.0 C590.0 308.6 620.0 312.9 650.0 316.5 C680.0 320.1 705.8 322.7 740.0 325.5 C774.2 328.3 820.8 332.3 855.0 333.4 C889.2 334.5 912.0 333.7 945.0 332.3 C978.0 330.9 1023.0 328.0 1053.0 325.0 C1083.0 322.0 1098.0 319.2 1125.0 314.4 C1152.0 309.6 1188.0 302.4 1215.0 296.4 C1242.0 290.4 1267.0 283.2 1287.0 278.4 C1307.0 273.6 1327.0 269.4 1335.0 267.6" fill="none" stroke="#84cc70" stroke-width="0.85" stroke-dasharray="1 1.6"/>
<path d="M679.0 259.5 C690.0 254.2 722.3 237.9 745.0 228.0 C767.7 218.1 790.5 208.7 815.0 200.0 C839.5 191.3 860.3 184.0 892.0 176.0 C923.7 168.0 970.3 157.4 1005.0 152.0 C1039.7 146.6 1072.5 145.1 1100.0 143.7 C1127.5 142.3 1146.5 142.6 1170.0 143.7 C1193.5 144.8 1213.5 146.5 1241.0 150.4 C1268.5 154.3 1319.3 164.2 1335.0 167.0" fill="none" stroke="#84cc70" stroke-width="0.85" stroke-dasharray="1 1.6"/>
<path d="M3.0 561.0 C19.2 558.7 67.2 554.8 100.0 547.0 C132.8 539.2 166.7 526.7 200.0 514.5 C233.3 502.3 266.7 487.1 300.0 474.0 C333.3 460.9 366.7 446.7 400.0 436.0 C433.3 425.3 466.7 416.2 500.0 410.0 C533.3 403.8 573.3 401.0 600.0 399.0 C626.7 397.0 637.3 397.0 660.0 397.8 C682.7 398.6 710.5 401.5 736.0 404.0 C761.5 406.5 791.7 409.8 813.0 413.0 C834.3 416.2 847.0 419.3 864.0 423.0 C881.0 426.7 898.0 431.0 915.0 435.0 C932.0 439.0 951.8 444.0 966.0 447.0 C980.2 450.0 986.7 450.2 1000.0 453.0 C1013.3 455.8 1029.8 460.0 1046.0 463.7 C1062.2 467.4 1080.0 471.6 1097.0 475.0 C1114.0 478.4 1131.0 481.8 1148.0 484.0 C1165.0 486.2 1182.0 487.6 1199.0 488.0 C1216.0 488.4 1233.2 487.9 1250.0 486.6 C1266.8 485.3 1285.8 482.2 1300.0 480.0 C1314.2 477.8 1329.2 474.5 1335.0 473.4" fill="none" stroke="#84cc70" stroke-width="0.85" stroke-dasharray="1 1.6"/>
</svg>
</body></html>
